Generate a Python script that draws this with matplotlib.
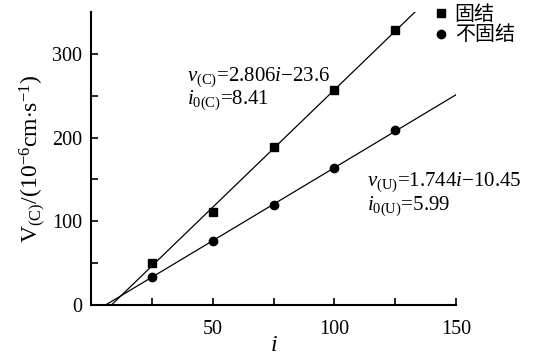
import numpy as np
import matplotlib
matplotlib.use("Agg")
import matplotlib.pyplot as plt
from matplotlib.lines import Line2D

plt.rcParams['font.family'] = ['Liberation Serif', 'Noto Sans CJK SC']
plt.rcParams['mathtext.fontset'] = 'custom'
plt.rcParams['mathtext.rm'] = 'Liberation Serif'
plt.rcParams['mathtext.it'] = 'Liberation Serif:italic'
plt.rcParams['mathtext.bf'] = 'Liberation Serif:bold'

i_vals = [25, 50, 75, 100, 125]
v_consolidated = [50, 111, 189, 257, 328]
v_unconsolidated = [34, 77, 120, 164, 209]
fit_c = (2.806, -23.6)
fit_u = (1.744, -10.45)
legend_labels = ['固结', '不固结']

fig = plt.figure(figsize=(5.44, 3.55), dpi=100)
ax = fig.add_axes([91/544, 1-305/355, (456-91)/544, (305-12)/355])

# fit lines
x0c = -fit_c[1] / fit_c[0]
xc = np.linspace(x0c, 150, 200)
ax.plot(xc, fit_c[0]*xc + fit_c[1], color='black', lw=0.9)
x0u = -fit_u[1] / fit_u[0]
xu = np.linspace(x0u, 150, 200)
ax.plot(xu, fit_u[0]*xu + fit_u[1], color='black', lw=0.9)

ax.plot(i_vals, v_consolidated, 's', color='black', ms=5.5, ls='none')
ax.plot(i_vals, v_unconsolidated, 'o', color='black', ms=6, ls='none')

ax.set_xlim(0, 150)
ax.set_ylim(0, 350)
ax.set_xticks([0, 25, 50, 75, 100, 125, 150])
ax.set_xticklabels(['', '', '50', '', '100', '', '150'])
ax.set_yticks([0, 50, 100, 150, 200, 250, 300])
ax.set_yticklabels(['0', '', '100', '', '200', '', '300'])
ax.tick_params(direction='in', length=5, width=1.2, labelsize=14.5)
ax.tick_params(axis='x', pad=11)
ax.tick_params(axis='y', pad=6.5)
for s in ['top', 'right']:
    ax.spines[s].set_visible(False)
for s in ['left', 'bottom']:
    ax.spines[s].set_linewidth(1.5)

ax.set_xlabel(r'$i$', fontsize=17, labelpad=-3)
ax.set_ylabel(r'$\mathrm{V}_{(\mathrm{C})}/(10^{-6}\mathrm{cm{\cdot}s}^{-1})$', fontsize=17, labelpad=3)

ax.text(39.5, 268, r'$v_{(\mathrm{C})}$=2.806$i$$-$23.6', fontsize=15, va='baseline')
ax.text(39.5, 240, r'$i_{0(\mathrm{C})}$=8.41', fontsize=15, va='baseline')
ax.text(113.4, 142, r'$v_{(\mathrm{U})}$=1.744$i$$-$10.45', fontsize=15, va='baseline')
ax.text(113.4, 114, r'$i_{0(\mathrm{U})}$=5.99', fontsize=15, va='baseline')

handles = [Line2D([], [], marker='s', color='black', ls='none', ms=5.5),
           Line2D([], [], marker='o', color='black', ls='none', ms=6)]
fig.legend(handles, legend_labels, loc='upper left', bbox_to_anchor=(432.7/544, 1 - 3.5/355),
           frameon=False, prop={'family': ['Noto Sans CJK SC'], 'size': 14.4},
           handlelength=0.8, handletextpad=0.3, labelspacing=0.0, borderpad=0,
           borderaxespad=0)

fig.savefig('out.png', dpi=100)
